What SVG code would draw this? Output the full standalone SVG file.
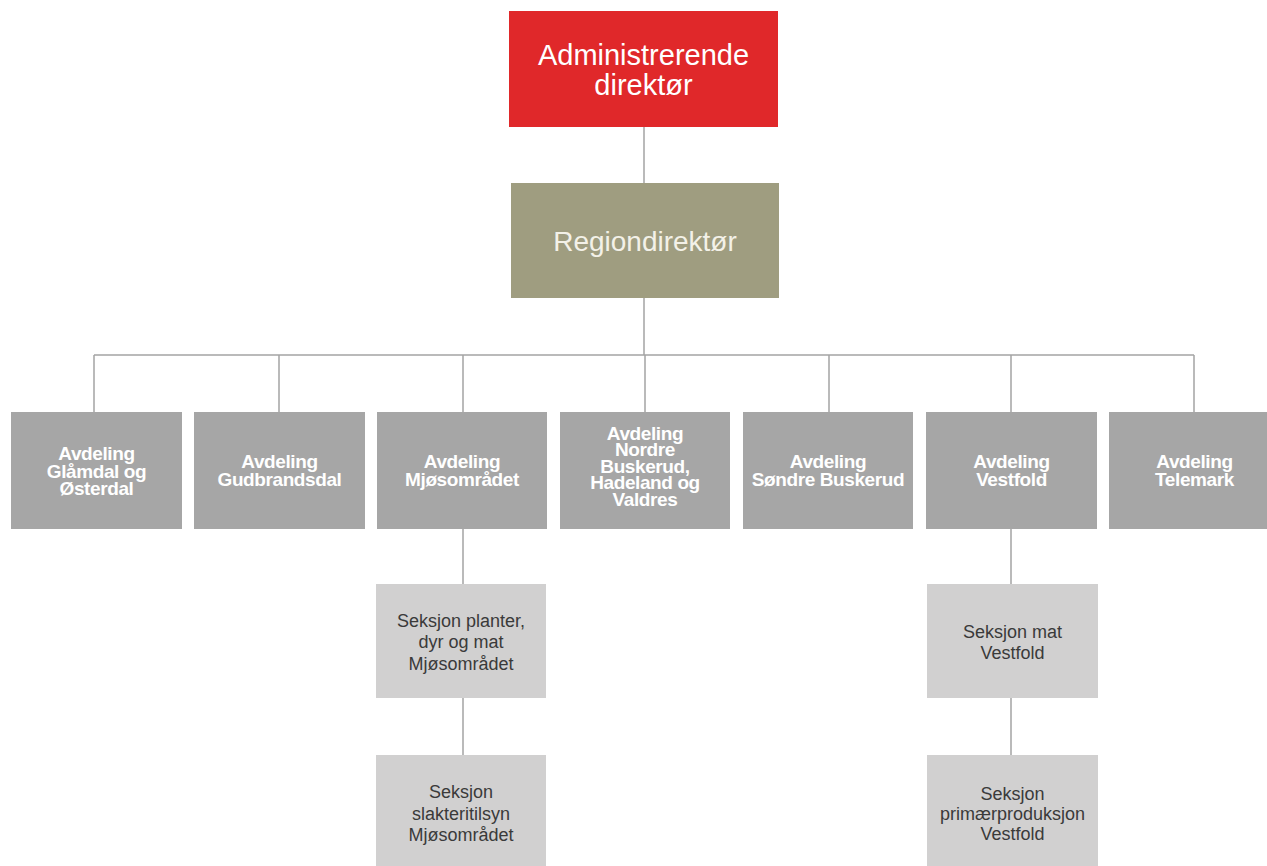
<svg xmlns="http://www.w3.org/2000/svg" width="1267" height="866" viewBox="0 0 1267 866">
<style>
.bg{fill:#ffffff}
.conn{stroke:#a3a3a3;stroke-width:1.5;fill:none}
.top{fill:#e0282a}
.reg{fill:#9f9d80}
.avd{fill:#a6a6a6}
.sek{fill:#d1d0d0}
.tTop{font-family:"Liberation Sans",Arial,sans-serif;font-size:29px;fill:#ffffff;text-anchor:middle}
.tReg{font-family:"Liberation Sans",Arial,sans-serif;font-size:28px;fill:#f3f1e8;text-anchor:middle}
.tAvd{font-family:"Liberation Sans",Arial,sans-serif;font-size:19px;font-weight:bold;letter-spacing:-0.4px;fill:#ffffff;text-anchor:middle}
.tSek{font-family:"Liberation Sans",Arial,sans-serif;font-size:18px;fill:#3a3a3a;text-anchor:middle}
</style>
<rect class="bg" x="0" y="0" width="1267" height="866"/>
<g id="connectors">
<line class="conn" x1="644" y1="127" x2="644" y2="183"/>
<line class="conn" x1="644" y1="298" x2="644" y2="355"/>
<line class="conn" x1="94" y1="355" x2="1194" y2="355"/>
<line class="conn" x1="94" y1="355" x2="94" y2="412"/>
<line class="conn" x1="279" y1="355" x2="279" y2="412"/>
<line class="conn" x1="463" y1="355" x2="463" y2="412"/>
<line class="conn" x1="645" y1="355" x2="645" y2="412"/>
<line class="conn" x1="829" y1="355" x2="829" y2="412"/>
<line class="conn" x1="1011" y1="355" x2="1011" y2="412"/>
<line class="conn" x1="1194" y1="355" x2="1194" y2="412"/>
<line class="conn" x1="463" y1="529" x2="463" y2="584"/>
<line class="conn" x1="463" y1="698" x2="463" y2="755"/>
<line class="conn" x1="1011" y1="529" x2="1011" y2="584"/>
<line class="conn" x1="1011" y1="698" x2="1011" y2="755"/>
</g>
<g id="adm">
<rect class="top" x="509" y="11" width="269" height="116"/>
<text class="tTop" x="643.5" y="65">Administrerende</text>
<text class="tTop" x="643.5" y="95">direktør</text>
</g>
<g id="region">
<rect class="reg" x="511" y="183" width="268" height="115"/>
<text class="tReg" x="645" y="251">Regiondirektør</text>
</g>
<g id="avd1">
<rect class="avd" x="11" y="412" width="171" height="117"/>
<text class="tAvd" x="96.5" y="460">Avdeling</text>
<text class="tAvd" x="96.5" y="477.5">Glåmdal og</text>
<text class="tAvd" x="96.5" y="495">Østerdal</text>
</g>
<g id="avd2">
<rect class="avd" x="194" y="412" width="171" height="117"/>
<text class="tAvd" x="279.5" y="468">Avdeling</text>
<text class="tAvd" x="279.5" y="486">Gudbrandsdal</text>
</g>
<g id="avd3">
<rect class="avd" x="377" y="412" width="170" height="117"/>
<text class="tAvd" x="462" y="468">Avdeling</text>
<text class="tAvd" x="462" y="486">Mjøsområdet</text>
</g>
<g id="avd4">
<rect class="avd" x="560" y="412" width="170" height="117"/>
<text class="tAvd" x="645" y="439.5">Avdeling</text>
<text class="tAvd" x="645" y="456">Nordre</text>
<text class="tAvd" x="645" y="472.5">Buskerud,</text>
<text class="tAvd" x="645" y="489">Hadeland og</text>
<text class="tAvd" x="645" y="505.5">Valdres</text>
</g>
<g id="avd5">
<rect class="avd" x="743" y="412" width="170" height="117"/>
<text class="tAvd" x="828" y="468">Avdeling</text>
<text class="tAvd" x="828" y="486">Søndre Buskerud</text>
</g>
<g id="avd6">
<rect class="avd" x="926" y="412" width="171" height="117"/>
<text class="tAvd" x="1011.5" y="468">Avdeling</text>
<text class="tAvd" x="1011.5" y="486">Vestfold</text>
</g>
<g id="avd7">
<rect class="avd" x="1109" y="412" width="171" height="117"/>
<text class="tAvd" x="1194.5" y="468">Avdeling</text>
<text class="tAvd" x="1194.5" y="486">Telemark</text>
</g>
<g id="sek1">
<rect class="sek" x="376" y="584" width="170" height="114"/>
<text class="tSek" x="461" y="626.5">Seksjon planter,</text>
<text class="tSek" x="461" y="648">dyr og mat</text>
<text class="tSek" x="461" y="669.5">Mjøsområdet</text>
</g>
<g id="sek2">
<rect class="sek" x="376" y="755" width="170" height="114"/>
<text class="tSek" x="461" y="798">Seksjon</text>
<text class="tSek" x="461" y="819.5">slakteritilsyn</text>
<text class="tSek" x="461" y="841">Mjøsområdet</text>
</g>
<g id="sek3">
<rect class="sek" x="927" y="584" width="171" height="114"/>
<text class="tSek" x="1012.5" y="638">Seksjon mat</text>
<text class="tSek" x="1012.5" y="658.5">Vestfold</text>
</g>
<g id="sek4">
<rect class="sek" x="927" y="755" width="171" height="114"/>
<text class="tSek" x="1012.5" y="799.5">Seksjon</text>
<text class="tSek" x="1012.5" y="819.5">primærproduksjon</text>
<text class="tSek" x="1012.5" y="839.5">Vestfold</text>
</g>
</svg>
